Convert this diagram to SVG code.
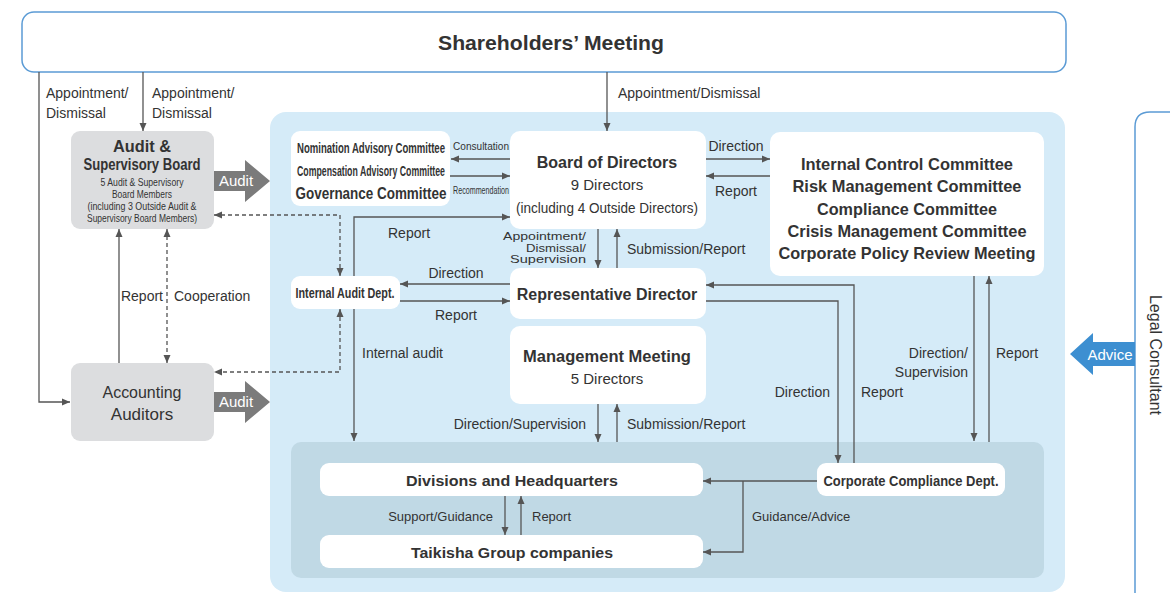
<svg xmlns="http://www.w3.org/2000/svg" width="1170" height="593" viewBox="0 0 1170 593">
<style>
text{font-family:"Liberation Sans",Arial,sans-serif;fill:#333}
.b{font-weight:bold}
.m{text-anchor:middle}
.e{text-anchor:end}
.l{font-size:14px}
.s{font-size:13px}
.ln{fill:none;stroke:#555;stroke-width:1.3}
.d{stroke-dasharray:4 3}
.wb{fill:#fff}
.gb{fill:#dcdddf}
.ga{fill:#7b7b7b}
.wt{fill:#fff;font-size:15px}
</style>
<defs>
<marker id="a" viewBox="0 0 8 8" refX="8" refY="4" markerWidth="8" markerHeight="8" markerUnits="userSpaceOnUse" orient="auto"><path d="M0,0.5 L8,4 L0,7.5 z" fill="#555"/></marker>
</defs>

<!-- backgrounds -->
<rect x="270" y="112" width="795" height="480" rx="16" fill="#d5ebf8"/>
<rect x="291" y="442" width="753" height="136" rx="10" fill="#c0d9e5"/>

<g id="shareholders">
<rect x="22" y="12" width="1044" height="60" rx="12" fill="#fff" stroke="#5b9bd5" stroke-width="1.5"/>
<text x="551" y="50" class="b m" font-size="20.5" textLength="226" lengthAdjust="spacingAndGlyphs">Shareholders’ Meeting</text>
</g>

<g id="legal">
<path d="M1135,600 L1135,127 Q1135,112 1150,112 L1175,112" fill="#fff" stroke="#5b9bd5" stroke-width="1.5"/>
<text transform="translate(1150,355) rotate(90)" class="m" font-size="16">Legal Consultant</text>
</g>

<g id="advice">
<path d="M1135,342 L1093,342 L1093,333 L1070,354 L1093,375 L1093,366 L1135,366 z" fill="#3d8fd1"/>
<text x="1110" y="360" class="m wt">Advice</text>
</g>

<g id="asb">
<rect x="71" y="131" width="143" height="98" rx="9" class="gb"/>
<text x="142" y="152" class="b m" font-size="16" textLength="58" lengthAdjust="spacingAndGlyphs">Audit &amp;</text>
<text x="142" y="170" class="b m" font-size="16" textLength="117" lengthAdjust="spacingAndGlyphs">Supervisory Board</text>
<text x="142" y="186" class="m" font-size="11" textLength="83" lengthAdjust="spacingAndGlyphs">5 Audit &amp; Supervisory</text>
<text x="142" y="198" class="m" font-size="11" textLength="60" lengthAdjust="spacingAndGlyphs">Board Members</text>
<text x="142" y="210" class="m" font-size="11" textLength="109" lengthAdjust="spacingAndGlyphs">(including 3 Outside Audit &amp;</text>
<text x="142" y="222" class="m" font-size="11" textLength="110" lengthAdjust="spacingAndGlyphs">Supervisory Board Members)</text>
</g>

<g id="audit1">
<path d="M214,171 L245,171 L245,160 L270,181 L245,202 L245,191 L214,191 z" class="ga"/>
<text x="236" y="186" class="m wt">Audit</text>
</g>

<g id="aa">
<rect x="71" y="363" width="143" height="78" rx="9" class="gb"/>
<text x="142" y="398" class="m" font-size="17" textLength="79" lengthAdjust="spacingAndGlyphs">Accounting</text>
<text x="142" y="420" class="m" font-size="17">Auditors</text>
</g>

<g id="audit2">
<path d="M214,392 L245,392 L245,381 L270,402 L245,423 L245,412 L214,412 z" class="ga"/>
<text x="236" y="407" class="m wt">Audit</text>
</g>

<g id="nom">
<rect x="291" y="131" width="159" height="75" rx="9" class="wb"/>
<text transform="translate(371,153) scale(0.68,1)" class="b m" font-size="14" textLength="217.6" lengthAdjust="spacingAndGlyphs">Nomination Advisory Committee</text>
<text transform="translate(371,176) scale(0.64,1)" class="b m" font-size="14" textLength="231.2" lengthAdjust="spacingAndGlyphs">Compensation Advisory Committee</text>
<text transform="translate(371,199) scale(0.82,1)" class="b m" font-size="16" textLength="184.1" lengthAdjust="spacingAndGlyphs">Governance Committee</text>
</g>

<g id="bod">
<rect x="510" y="131" width="196" height="98" rx="10" class="wb"/>
<text x="607" y="168" class="b m" font-size="16">Board of Directors</text>
<text x="607" y="190" class="m" font-size="15">9 Directors</text>
<text x="607" y="213" class="m" font-size="14.5" textLength="182" lengthAdjust="spacingAndGlyphs">(including 4 Outside Directors)</text>
</g>

<g id="icc">
<rect x="770" y="132" width="274" height="144" rx="10" class="wb"/>
<text x="907" y="170" class="b m" font-size="16.5" textLength="212" lengthAdjust="spacingAndGlyphs">Internal Control Committee</text>
<text x="907" y="192" class="b m" font-size="16.5" textLength="229" lengthAdjust="spacingAndGlyphs">Risk Management Committee</text>
<text x="907" y="215" class="b m" font-size="16.5" textLength="180" lengthAdjust="spacingAndGlyphs">Compliance Committee</text>
<text x="907" y="237" class="b m" font-size="16.5" textLength="239" lengthAdjust="spacingAndGlyphs">Crisis Management Committee</text>
<text x="907" y="259" class="b m" font-size="16.5" textLength="257" lengthAdjust="spacingAndGlyphs">Corporate Policy Review Meeting</text>
</g>

<g id="iad">
<rect x="291" y="276" width="109" height="33" rx="9" class="wb"/>
<text x="345" y="298" class="b m" font-size="14" textLength="99" lengthAdjust="spacingAndGlyphs">Internal Audit Dept.</text>
</g>

<g id="rd">
<rect x="510" y="268" width="196" height="51" rx="10" class="wb"/>
<text x="607" y="300" class="b m" font-size="16">Representative Director</text>
</g>

<g id="mm">
<rect x="510" y="326" width="196" height="78" rx="10" class="wb"/>
<text x="607" y="362" class="b m" font-size="16.5">Management Meeting</text>
<text x="607" y="384" class="m" font-size="15">5 Directors</text>
</g>

<g id="div">
<rect x="320" y="463" width="383" height="33" rx="9" class="wb"/>
<text x="512" y="486" class="b m" font-size="15.5" textLength="212" lengthAdjust="spacingAndGlyphs">Divisions and Headquarters</text>
</g>

<g id="tgc">
<rect x="320" y="535" width="383" height="33" rx="9" class="wb"/>
<text x="512" y="558" class="b m" font-size="15.5" textLength="202" lengthAdjust="spacingAndGlyphs">Taikisha Group companies</text>
</g>

<g id="ccd">
<rect x="817" y="463" width="188" height="33" rx="9" class="wb"/>
<text x="911" y="486" class="b m" font-size="14.5" textLength="175" lengthAdjust="spacingAndGlyphs">Corporate Compliance Dept.</text>
</g>

<g id="connectors">
<path d="M39,72 V402 H70" class="ln" marker-end="url(#a)"/>
<path d="M143,72 V131" class="ln" marker-end="url(#a)"/>
<path d="M607,72 V131" class="ln" marker-end="url(#a)"/>
<path d="M119,363 V229" class="ln" marker-end="url(#a)"/>
<path d="M167,236 V356" class="ln d"/>
<path d="M167,237 V229" class="ln" marker-end="url(#a)"/>
<path d="M167,355 V363" class="ln" marker-end="url(#a)"/>
<path d="M340,275 V215 H214" class="ln d" marker-end="url(#a)"/>
<path d="M340,268 V276" class="ln" marker-end="url(#a)"/>
<path d="M340,310 V372 H214" class="ln d" marker-end="url(#a)"/>
<path d="M340,317 V309" class="ln" marker-end="url(#a)"/>
<path d="M354,276 V217 H510" class="ln" marker-end="url(#a)"/>
<path d="M354,309 V441" class="ln" marker-end="url(#a)"/>
<path d="M510,284 H400" class="ln" marker-end="url(#a)"/>
<path d="M400,301 H510" class="ln" marker-end="url(#a)"/>
<path d="M510,159 H451" class="ln" marker-end="url(#a)"/>
<path d="M450,176 H510" class="ln" marker-end="url(#a)"/>
<path d="M706,159 H770" class="ln" marker-end="url(#a)"/>
<path d="M770,176 H706" class="ln" marker-end="url(#a)"/>
<path d="M974,276 V441" class="ln" marker-end="url(#a)"/>
<path d="M989,442 V276" class="ln" marker-end="url(#a)"/>
<path d="M598,229 V268" class="ln" marker-end="url(#a)"/>
<path d="M617,268 V229" class="ln" marker-end="url(#a)"/>
<path d="M598,404 V442" class="ln" marker-end="url(#a)"/>
<path d="M617,442 V404" class="ln" marker-end="url(#a)"/>
<path d="M706,301 H838 V463" class="ln" marker-end="url(#a)"/>
<path d="M854,463 V285 H706" class="ln" marker-end="url(#a)"/>
<path d="M817,481 H703" class="ln" marker-end="url(#a)"/>
<path d="M743,481 V552 H703" class="ln" marker-end="url(#a)"/>
<path d="M505,496 V535" class="ln" marker-end="url(#a)"/>
<path d="M521,535 V496" class="ln" marker-end="url(#a)"/>
</g>

<g id="labels">
<text x="46" y="98" class="l">Appointment/</text>
<text x="46" y="118" class="l">Dismissal</text>
<text x="152" y="98" class="l">Appointment/</text>
<text x="152" y="118" class="l">Dismissal</text>
<text x="618" y="98" class="l">Appointment/Dismissal</text>
<text x="163" y="301" class="l e">Report</text>
<text x="174" y="301" class="l">Cooperation</text>
<text transform="translate(481,150) scale(0.82,1)" class="m" font-size="11.5" textLength="68.3" lengthAdjust="spacingAndGlyphs">Consultation</text>
<text transform="translate(481,194) scale(0.68,1)" class="m" font-size="10.5" textLength="82.4" lengthAdjust="spacingAndGlyphs">Recommendation</text>
<text x="736" y="151" class="l m">Direction</text>
<text x="736" y="196" class="l m">Report</text>
<text x="388" y="238" class="l">Report</text>
<text x="456" y="278" class="l m">Direction</text>
<text x="456" y="320" class="l m">Report</text>
<text x="362" y="358" class="l">Internal audit</text>
<text x="586" y="240" class="e" font-size="11.5" textLength="83" lengthAdjust="spacingAndGlyphs">Appointment/</text>
<text x="586" y="251.5" class="e" font-size="11.5" textLength="60" lengthAdjust="spacingAndGlyphs">Dismissal/</text>
<text x="586" y="263" class="e" font-size="11.5" textLength="76" lengthAdjust="spacingAndGlyphs">Supervision</text>
<text x="627" y="254" class="l">Submission/Report</text>
<text x="586" y="429" class="l e">Direction/Supervision</text>
<text x="627" y="429" class="l">Submission/Report</text>
<text x="830" y="397" class="l e">Direction</text>
<text x="861" y="397" class="l">Report</text>
<text x="968" y="358" class="l e">Direction/</text>
<text x="968" y="377" class="l e">Supervision</text>
<text x="996" y="358" class="l">Report</text>
<text x="493" y="521" class="s e">Support/Guidance</text>
<text x="532" y="521" class="s">Report</text>
<text x="752" y="521" class="s">Guidance/Advice</text>
</g>
</svg>
